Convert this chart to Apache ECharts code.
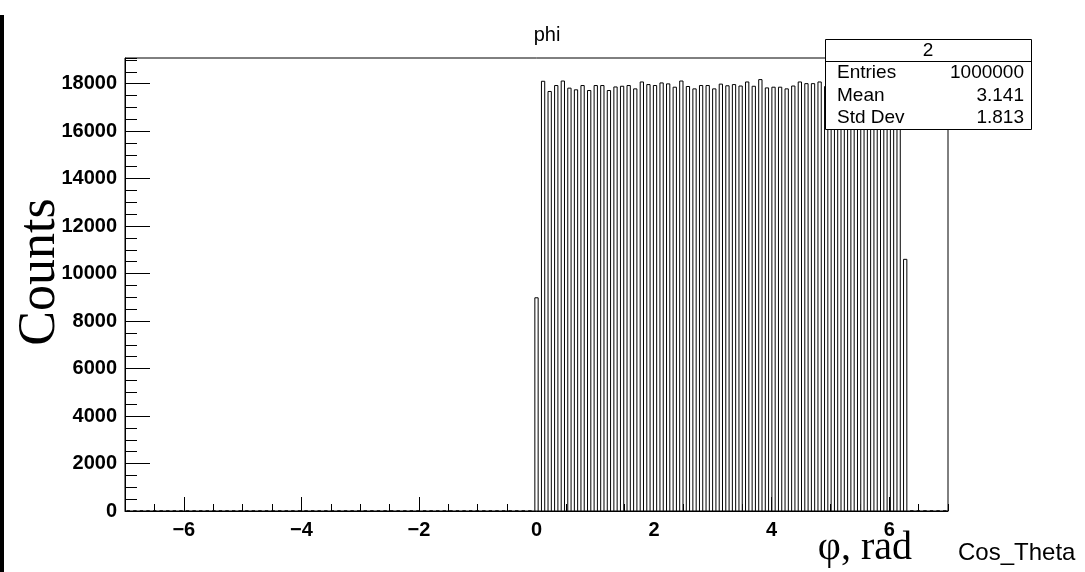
<!DOCTYPE html>
<html>
<head>
<meta charset="utf-8">
<script src="https://cdn.jsdelivr.net/npm/echarts@6/dist/echarts.min.js"></script>
<style>
  html, body { margin: 0; padding: 0; background: #fff; }
  #chart { width: 1085px; height: 572px; }
</style>
</head>
<body>
<div id="chart"></div>
<script>
// Histogram "phi": 125 bins spanning [-7, 7]
const X_MIN = -7;
const X_MAX = 7;
const N_BINS = 125;

// Bin contents, bin 0 .. bin 124
const binCounts = [
  0, 0, 0, 0, 0, 0, 0, 0, 0, 0, 0, 0, 0, 0, 0, 0, 0, 0, 0, 0,
  0, 0, 0, 0, 0, 0, 0, 0, 0, 0, 0, 0, 0, 0, 0, 0, 0, 0, 0, 0,
  0, 0, 0, 0, 0, 0, 0, 0, 0, 0, 0, 0, 0, 0, 0, 0, 0, 0, 0, 0,
  0, 0,
  8980,
  18100, 17670, 17920, 18110, 17810, 17740, 17920, 17710, 17920, 17920,
  17710, 17860, 17890, 17920, 17780, 18070, 17960, 17920, 18030, 17990,
  17850, 18110, 17880, 17780, 17920, 17920, 17780, 17980, 17910, 17960,
  17900, 18070, 17890, 18170, 17820, 17850, 17850, 17780, 17900, 18070,
  18000, 18000, 18070, 17880, 17950, 17820, 17910, 17860, 17990, 17800,
  17930, 17870, 17840, 17960, 17890,
  10600,
  0, 0, 0, 0, 0, 0
];

// Axis ticks
const xMajorTicks = [-6, -4, -2, 0, 2, 4, 6];
const yMajorTicks = [0, 2000, 4000, 6000, 8000, 10000, 12000, 14000, 16000, 18000];

// Statistics box contents
const statsTitle = '2';
const statsRows = [
  ['Entries', '1000000'],
  ['Mean', '3.141'],
  ['Std Dev', '1.813']
];

const Y_MAX = 19080;

const binWidth = (X_MAX - X_MIN) / N_BINS;
const histData = binCounts.map((c, i) => [X_MIN + i * binWidth, X_MIN + (i + 1) * binWidth, c]);

const SANS = '"Liberation Sans", Arial, Helvetica, sans-serif';
const SERIF = '"Liberation Serif", "Times New Roman", serif';

const chart = echarts.init(document.getElementById('chart'), null, { renderer: 'canvas' });

const statsGraphic = [];
const BOX_L = 825, BOX_T = 39, BOX_W = 206, BOX_H = 90, HEAD_H = 22;
statsGraphic.push({
  type: 'rect', z: 100,
  shape: { x: BOX_L + 0.5, y: BOX_T + 0.5, width: BOX_W, height: BOX_H },
  style: { fill: '#fff', stroke: '#000', lineWidth: 1 }
});
statsGraphic.push({
  type: 'line', z: 101,
  shape: { x1: BOX_L, y1: BOX_T + HEAD_H + 0.5, x2: BOX_L + BOX_W, y2: BOX_T + HEAD_H + 0.5 },
  style: { stroke: '#000', lineWidth: 1 }
});
statsGraphic.push({
  type: 'text', z: 102, x: BOX_L + BOX_W / 2, y: BOX_T + HEAD_H / 2 + 1,
  style: { text: statsTitle, font: '19px ' + SANS, fill: '#000', align: 'center', verticalAlign: 'middle' }
});
statsRows.forEach((row, i) => {
  const cy = BOX_T + HEAD_H + 12 + i * 22.5;
  statsGraphic.push({
    type: 'text', z: 102, x: BOX_L + 12, y: cy,
    style: { text: row[0], font: '19px ' + SANS, fill: '#000', align: 'left', verticalAlign: 'middle' }
  });
  statsGraphic.push({
    type: 'text', z: 102, x: BOX_L + BOX_W - 7, y: cy,
    style: { text: row[1], font: '19px ' + SANS, fill: '#000', align: 'right', verticalAlign: 'middle' }
  });
});

const option = {
  animation: false,
  backgroundColor: '#fff',
  grid: {
    left: 125, right: 137, top: 58, bottom: 61,
    show: true, borderColor: '#000', borderWidth: 1, backgroundColor: 'transparent'
  },
  xAxis: [
    {
      type: 'value', min: X_MIN, max: X_MAX, interval: 0.5, position: 'bottom', offset: 0,
      axisLine: { show: true, onZero: false, lineStyle: { color: '#000', width: 1 } },
      axisTick: { show: true, inside: true, length: 7, lineStyle: { color: '#000', width: 1 } },
      axisLabel: { show: false },
      splitLine: { show: false }
    },
    {
      type: 'value', min: X_MIN, max: X_MAX, position: 'bottom', offset: 0,
      axisLine: { show: false, onZero: false },
      axisTick: { show: true, inside: true, length: 14, customValues: xMajorTicks, lineStyle: { color: '#000', width: 1 } },
      axisLabel: {
        show: true, customValues: xMajorTicks, margin: 9,
        color: '#000', fontFamily: SANS, fontWeight: 'bold', fontSize: 20,
        formatter: v => (v < 0 ? '\u2212' + Math.abs(v) : String(v))
      },
      splitLine: { show: false }
    }
  ],
  yAxis: [
    {
      type: 'value', min: 0, max: Y_MAX, interval: 500, position: 'left', offset: 0,
      axisLine: { show: true, onZero: false, lineStyle: { color: '#000', width: 1 } },
      axisTick: { show: true, inside: true, length: 12, lineStyle: { color: '#000', width: 1 } },
      axisLabel: { show: false },
      splitLine: { show: false }
    },
    {
      type: 'value', min: 0, max: Y_MAX, position: 'left', offset: 0,
      axisLine: { show: false, onZero: false },
      axisTick: { show: true, inside: true, length: 25, customValues: yMajorTicks, lineStyle: { color: '#000', width: 1 } },
      axisLabel: {
        show: true, customValues: yMajorTicks, margin: 8,
        color: '#000', fontFamily: SANS, fontWeight: 'bold', fontSize: 20,
        formatter: v => String(v)
      },
      splitLine: { show: false }
    }
  ],
  series: [
    {
      type: 'custom',
      xAxisIndex: 0, yAxisIndex: 0,
      clip: false,
      data: histData,
      renderItem: function (params, api) {
        const lo = api.value(0), hi = api.value(1), v = api.value(2);
        const w = hi - lo;
        const p0 = api.coord([lo + 0.25 * w, v]);
        const p1 = api.coord([lo + 0.75 * w, 0]);
        return {
          type: 'rect',
          shape: { x: p0[0], y: p0[1], width: p1[0] - p0[0], height: p1[1] - p0[1] },
          style: { fill: '#fff', stroke: '#000', lineWidth: 1 }
        };
      }
    }
  ],
  graphic: [
    // dark strip along the left edge
    { type: 'rect', z: 50, shape: { x: 0, y: 15, width: 4, height: 557 }, style: { fill: '#000' } },
    {
      type: 'text', z: 60, x: 547, y: 35,
      style: { text: 'phi', font: '20px ' + SANS, fill: '#000', align: 'center', verticalAlign: 'middle' }
    },
    {
      type: 'text', z: 60, x: 40, y: 272, rotation: Math.PI / 2,
      style: { text: 'Counts', font: '52px ' + SERIF, fill: '#000', align: 'center', verticalAlign: 'middle' }
    },
    {
      type: 'text', z: 60, x: 912, y: 548,
      style: { text: '\u03c6, rad', font: '40px ' + SERIF, fill: '#000', align: 'right', verticalAlign: 'middle' }
    },
    {
      type: 'text', z: 60, x: 958, y: 553,
      style: { text: 'Cos_Theta', font: '24px ' + SANS, fill: '#000', align: 'left', verticalAlign: 'middle' }
    }
  ].concat(statsGraphic)
};

chart.setOption(option);
</script>
</body>
</html>
